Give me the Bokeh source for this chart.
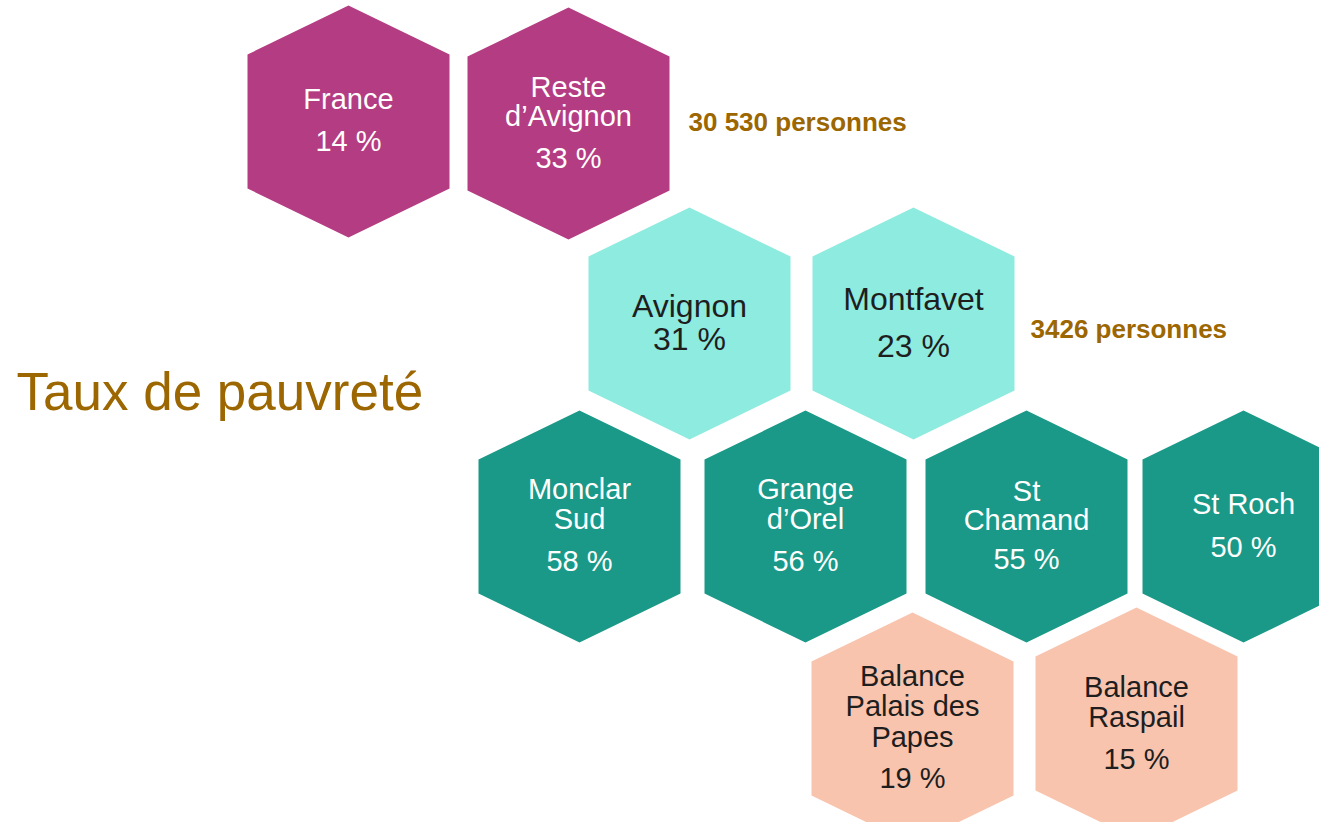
from bokeh.plotting import figure
from bokeh.models import Range1d, ColumnDataSource
from bokeh.core.properties import value
from bokeh.embed import file_html
from bokeh.resources import INLINE

# ---- data ----
names = ["France", "Reste\nd’Avignon", "Avignon", "Montfavet", "Monclar\nSud",
         "Grange\nd’Orel", "St\nChamand", "St Roch", "Balance\nPalais des\nPapes",
         "Balance\nRaspail"]
values = [14, 33, 31, 23, 58, 56, 55, 50, 19, 15]
groups = ["ref", "ref", "city", "city", "qpv", "qpv", "qpv", "qpv", "low", "low"]
notes = ["30 530 personnes", "3426 personnes"]
title_text = "Taux de pauvreté"

# ---- layout (pixel coordinates of the picture) ----
cx = [348, 568, 689, 913, 579, 805, 1026, 1243, 912, 1136]
cy = [121, 123, 323, 323, 526, 526, 526, 526, 728, 723]
name_y = [[98], [86, 115], [305], [298], [488, 518], [488, 518], [490, 519], [503],
          [675, 705, 736], [686, 716]]
pct_y = [140, 157, 338, 345, 560, 560, 558, 546, 777, 758]
note_x = [688, 1030]
note_y = [121, 328]

fill = {"ref": "#B43C82", "city": "#8EEBDF", "qpv": "#1A9988", "low": "#F8C4AE"}
txtc = {"ref": "#FFFFFF", "city": "#1E1E1E", "qpv": "#FFFFFF", "low": "#1E1E1E"}
fsize = {"ref": "29px", "city": "32px", "qpv": "29px", "low": "29px"}

HW, HH, SH = 101, 116, 67  # half width, half height, shoulder offset

W, H = 1319, 822
p = figure(width=W, height=H, output_backend="svg", toolbar_location=None,
           x_range=Range1d(0, W), y_range=Range1d(H, 0),
           min_border=0)
p.axis.visible = False
p.grid.visible = False
p.outline_line_color = None
p.background_fill_color = "white"
p.border_fill_color = "white"

xs, ys, cols = [], [], []
for x0, y0, g in zip(cx, cy, groups):
    xs.append([x0, x0 + HW, x0 + HW, x0, x0 - HW, x0 - HW])
    ys.append([y0 - HH, y0 - SH, y0 + SH, y0 + HH, y0 + SH, y0 - SH])
    cols.append(fill[g])
p.patches(xs=xs, ys=ys, fill_color=cols, line_color=None)

FONT = value("Liberation Sans")
for i, (nm, v, g) in enumerate(zip(names, values, groups)):
    lines = nm.split("\n")
    src = ColumnDataSource(dict(x=[cx[i]] * (len(lines) + 1),
                                y=name_y[i] + [pct_y[i]],
                                t=lines + [f"{v} %"]))
    p.text(x="x", y="y", text="t", source=src, text_align="center",
           text_baseline="middle", text_font=FONT, text_font_size=fsize[g],
           text_color=txtc[g])

p.text(x=note_x, y=note_y, text=notes, text_align="left", text_baseline="middle",
       text_font=FONT, text_font_size="26px", text_font_style="bold",
       text_color="#9C6600")

p.text(x=[16], y=[391], text=[title_text], text_align="left",
       text_baseline="middle", text_font=FONT, text_font_size="53px",
       text_color="#9C6600")

open("out.html", "w").write(file_html(p, INLINE))
